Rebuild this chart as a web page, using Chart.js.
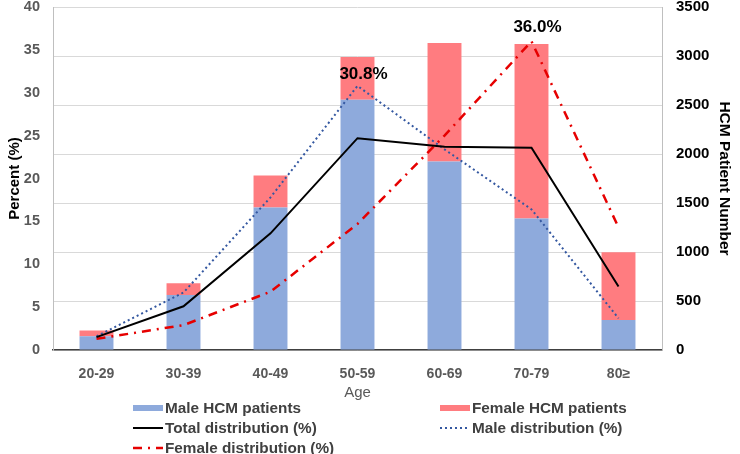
<!DOCTYPE html>
<html>
<head>
<meta charset="utf-8">
<script src="https://cdn.jsdelivr.net/npm/chart.js@4.4.1/dist/chart.umd.min.js"></script>
<style>
    body { margin: 0; background: #fff; }
    #wrap { position: relative; width: 740px; height: 454px; overflow: hidden; }
    #chart { position: absolute; left: 0; top: -16px; }
    #legend {
        position: absolute; left: 133px; top: 398px;
        display: grid; grid-template-columns: 307px 280px;
        font: bold 15.3px "Liberation Sans", Arial, sans-serif; color: #404040;
    }
    .item { display: flex; align-items: center; height: 20px; }
    .item canvas { margin-right: 2px; }
</style>
</head>
<body>
<div id="wrap">
    <canvas id="chart" width="740" height="470"></canvas>
    <div id="legend"></div>
</div>
<script>
// Data
const ageGroups = ["20-29", "30-39", "40-49", "50-59", "60-69", "70-79", "80≥"];
const malePatients = [140, 560, 1455, 2553, 1923, 1343, 305];
const femalePatients = [60, 122, 325, 437, 1210, 1780, 692];
const totalDistribution = [1.5, 5.1, 13.6, 24.7, 23.7, 23.6, 7.4];
const maleDistribution = [1.6, 6.7, 17.8, 30.8, 23.4, 16.4, 3.7];
const femaleDistribution = [1.3, 2.9, 6.8, 14.7, 25.0, 36.0, 14.3];
const percentTicks = [0, 5, 10, 15, 20, 25, 30, 35, 40];
const patientTicks = [0, 500, 1000, 1500, 2000, 2500, 3000, 3500];

const font = "'Liberation Sans', Arial, sans-serif";

// Peak value labels (dataset label + category index)
const peakLabels = [
    { label: "Male distribution (%)", index: 3, dx: 6, dy: -3 },
    { label: "Female distribution (%)", index: 5, dx: 6, dy: -5 }
];

const peakLabelPlugin = {
    id: "peakLabels",
    afterDatasetsDraw(chart) {
        const ctx = chart.ctx;
        ctx.save();
        ctx.font = "bold 17px " + font;
        ctx.fillStyle = "#000";
        ctx.textAlign = "center";
        ctx.textBaseline = "bottom";
        peakLabels.forEach(p => {
            const dsIndex = chart.data.datasets.findIndex(d => d.label === p.label);
            const point = chart.getDatasetMeta(dsIndex).data[p.index];
            const value = chart.data.datasets[dsIndex].data[p.index];
            ctx.fillText(value.toFixed(1) + "%", point.x + p.dx, point.y + p.dy);
        });
        ctx.restore();
    }
};

const ctx = document.getElementById("chart").getContext("2d");
const chart = new Chart(ctx, {
    type: "bar",
    data: {
        labels: ageGroups,
        datasets: [
            {
                type: "line", label: "Total distribution (%)", data: totalDistribution,
                yAxisID: "y", borderColor: "#000", borderWidth: 2, pointRadius: 0,
                tension: 0, order: 0
            },
            {
                type: "line", label: "Male distribution (%)", data: maleDistribution,
                yAxisID: "y", borderColor: "#3357a0", borderWidth: 2, borderDash: [2, 3],
                pointRadius: 0, tension: 0, order: 0
            },
            {
                type: "line", label: "Female distribution (%)", data: femaleDistribution,
                yAxisID: "y", borderColor: "#e60000", borderWidth: 2.5, borderDash: [9, 6, 2, 6],
                pointRadius: 0, tension: 0, order: 0
            },
            {
                label: "Male HCM patients", data: malePatients, yAxisID: "y1",
                backgroundColor: "#8eaadc", stack: "patients", order: 1,
                barPercentage: 0.39, categoryPercentage: 1
            },
            {
                label: "Female HCM patients", data: femalePatients, yAxisID: "y1",
                backgroundColor: "#ff7c80", stack: "patients", order: 1,
                barPercentage: 0.39, categoryPercentage: 1
            }
        ]
    },
    options: {
        responsive: false,
        animation: false,
        layout: { padding: { top: 0, bottom: 52, left: 4, right: 4 } },
        plugins: { legend: { display: false }, tooltip: { enabled: false } },
        scales: {
            x: {
                stacked: true,
                afterFit: axis => { axis.height = 52; },
                grid: { display: false, drawTicks: false },
                border: { color: "#404040", width: 1.5 },
                ticks: { color: "#595959", font: { family: font, size: 14, weight: "bold" }, padding: 16 },
                title: { display: true, text: "Age", color: "#595959", font: { family: font, size: 15 }, padding: 0 }
            },
            y: {
                position: "left", min: 0, max: 40,
                afterBuildTicks: axis => { axis.ticks = percentTicks.map(v => ({ value: v })); },
                afterFit: axis => { axis.width = 49; },
                grid: { display: false, drawTicks: false },
                border: { color: "#bfbfbf" },
                ticks: { color: "#595959", font: { family: font, size: 14.5, weight: "bold" }, padding: 13 },
                title: { display: true, text: "Percent (%)", color: "#000", font: { family: font, size: 15, weight: "bold" }, padding: 2 }
            },
            y1: {
                position: "right", min: 0, max: 3500, stacked: true,
                afterBuildTicks: axis => { axis.ticks = patientTicks.map(v => ({ value: v })); },
                afterFit: axis => { axis.width = 74; },
                grid: { color: "#d9d9d9", drawTicks: false },
                border: { color: "#bfbfbf" },
                ticks: { color: "#000", font: { family: font, size: 15, weight: "bold" }, padding: 14, callback: v => String(v) },
                title: { display: true, text: "HCM Patient Number", color: "#000", font: { family: font, size: 15.5, weight: "bold" }, padding: 2 }
            }
        }
    },
    plugins: [peakLabelPlugin]
});

// Legend in two columns, same order as the reference
const legendOrder = ["Male HCM patients", "Female HCM patients", "Total distribution (%)", "Male distribution (%)", "Female distribution (%)"];
const legendEl = document.getElementById("legend");
legendOrder.forEach(name => {
    const ds = chart.data.datasets.find(d => d.label === name);
    const item = document.createElement("div");
    item.className = "item";
    const sym = document.createElement("canvas");
    sym.width = 30; sym.height = 18;
    const s = sym.getContext("2d");
    if (ds.type === "line") {
        s.strokeStyle = ds.borderColor;
        s.lineWidth = ds.borderWidth;
        s.setLineDash(ds.borderDash || []);
        s.beginPath(); s.moveTo(0, 9); s.lineTo(30, 9); s.stroke();
    } else {
        s.fillStyle = ds.backgroundColor;
        s.fillRect(0, 6, 30, 6);
    }
    item.appendChild(sym);
    const text = document.createElement("span");
    text.textContent = name;
    item.appendChild(text);
    legendEl.appendChild(item);
});
</script>
</body>
</html>
